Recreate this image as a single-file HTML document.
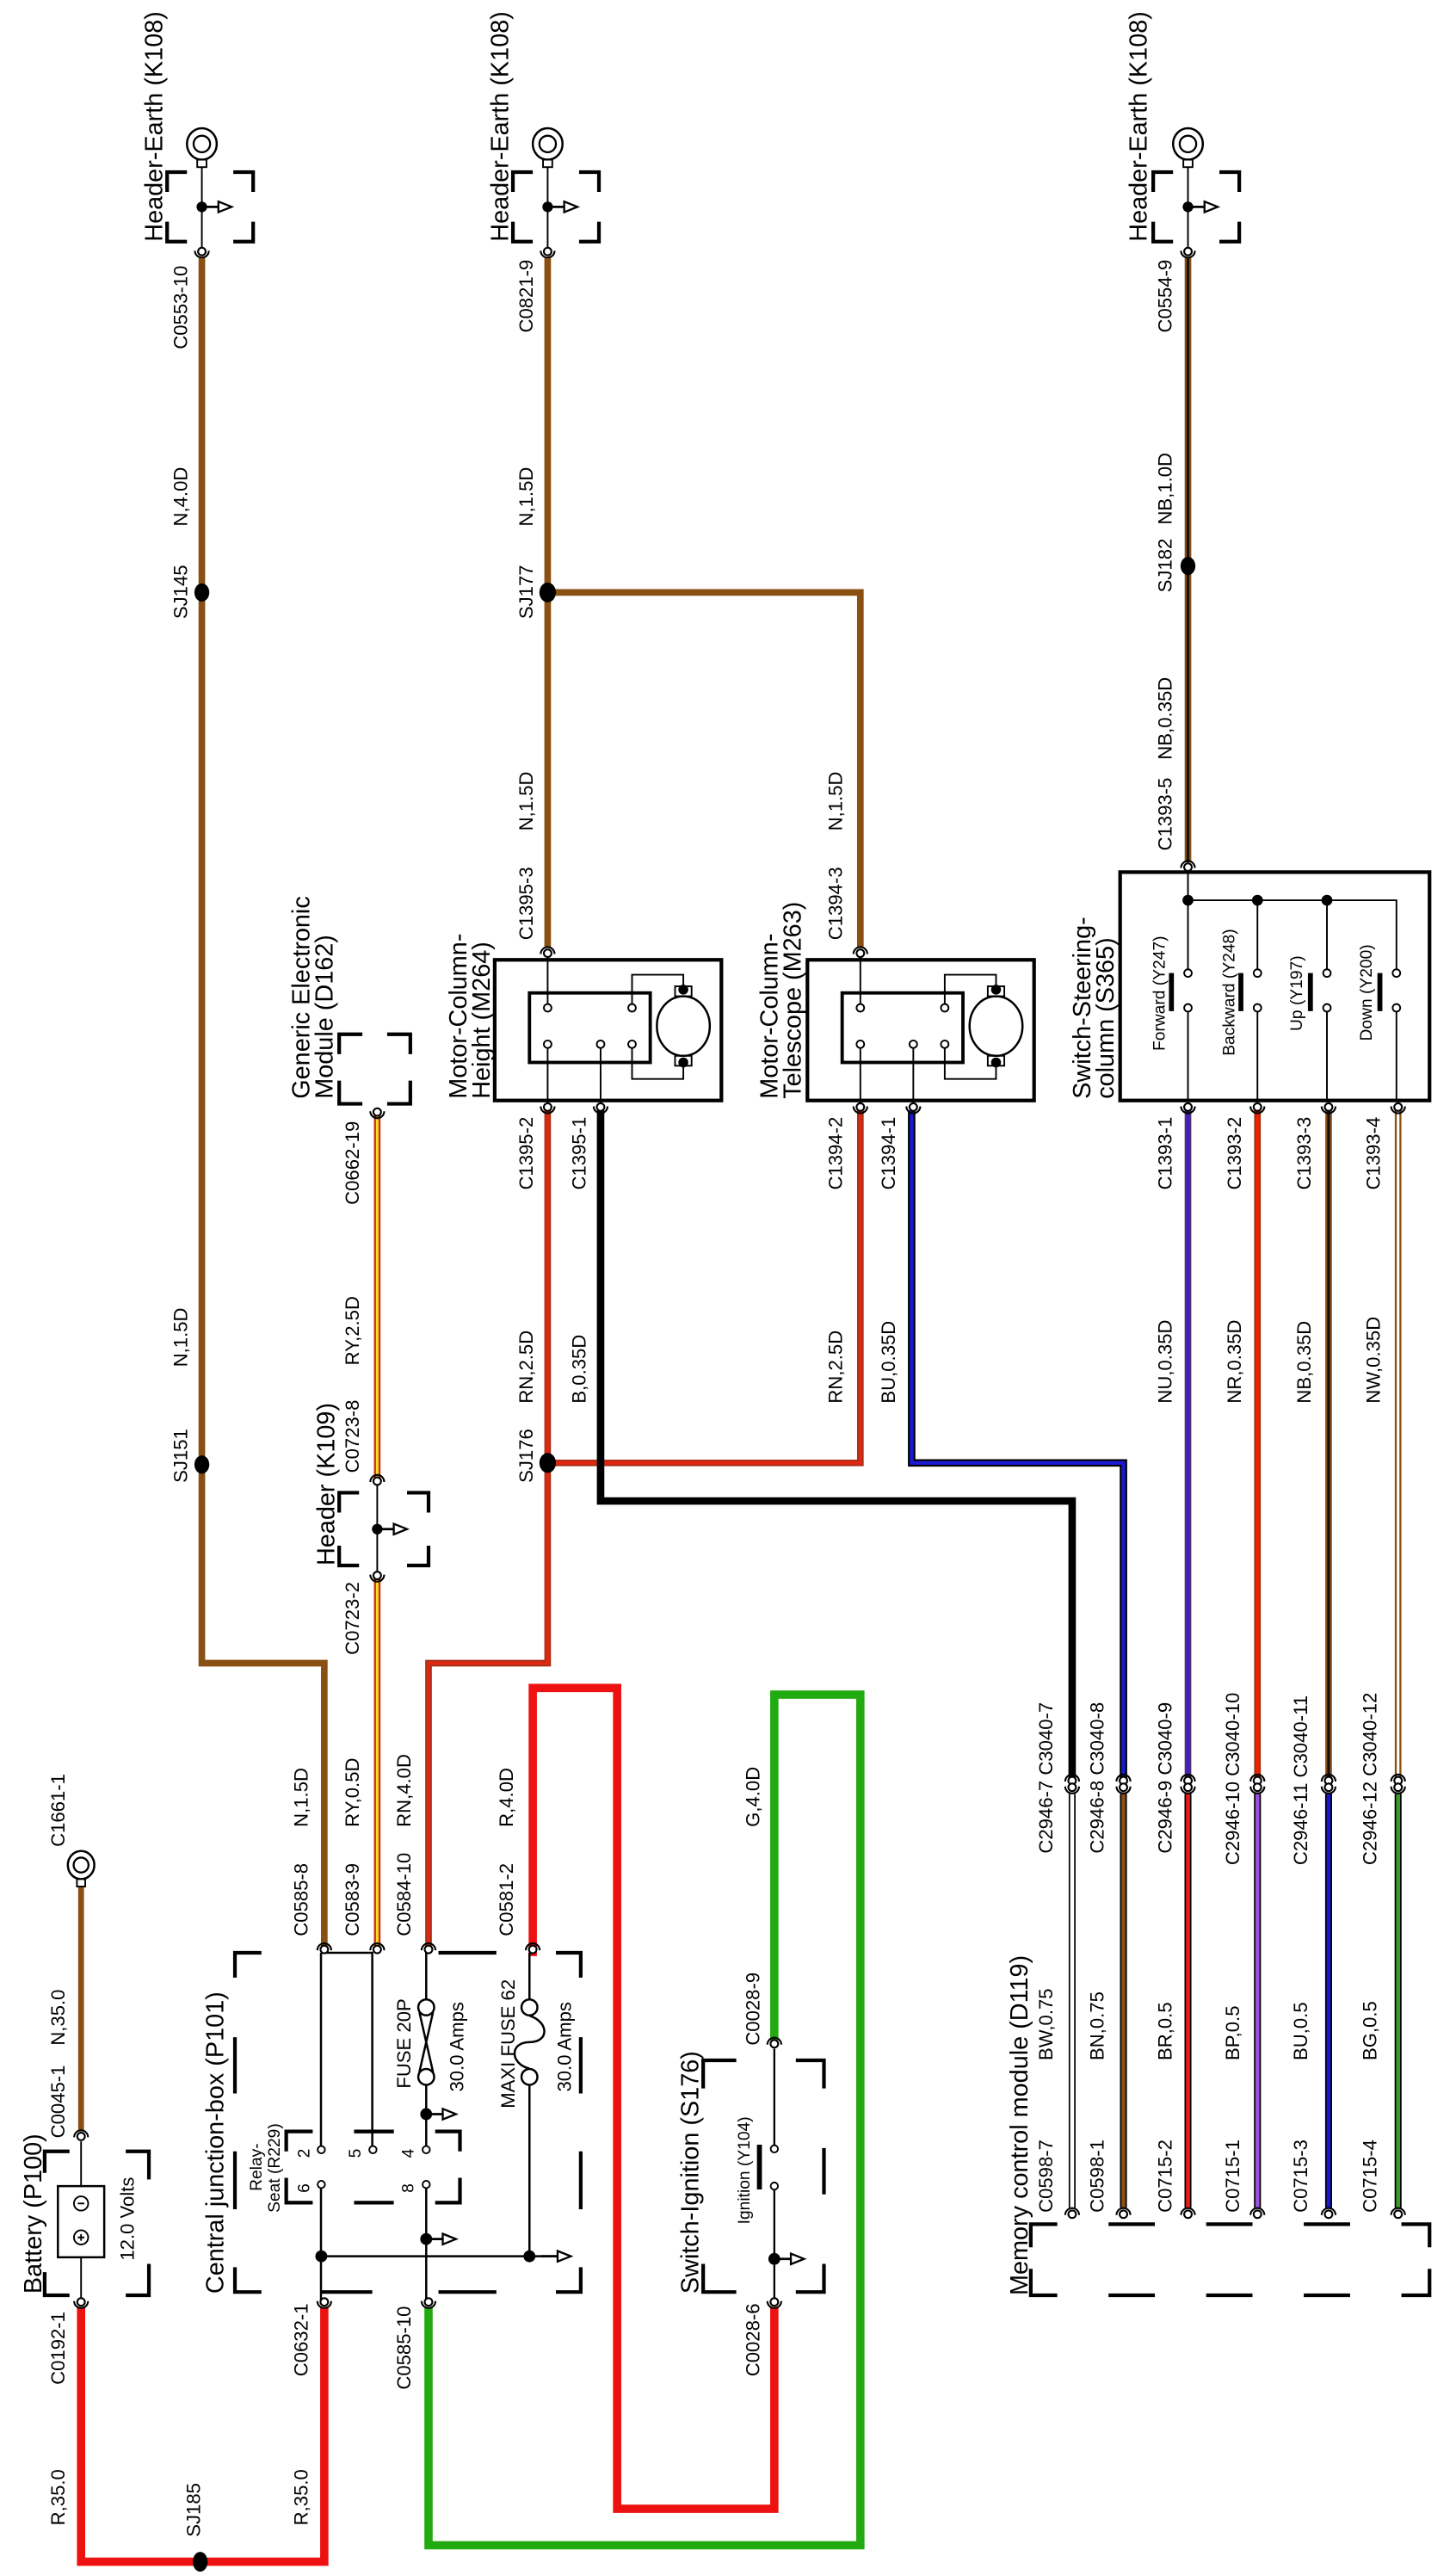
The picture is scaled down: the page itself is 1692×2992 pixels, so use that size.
<!DOCTYPE html>
<html><head><meta charset="utf-8"><style>
html,body{margin:0;padding:0;background:#fff;}
svg{display:block;}
text{font-family:"Liberation Sans",Arial,sans-serif;fill:#000;}
.t{font-size:15px;}
.l{font-size:11.5px;}
.s{font-size:10px;}
</style></head><body>
<svg width="1692" height="2992" viewBox="0 0 880 1556" preserveAspectRatio="none" xmlns="http://www.w3.org/2000/svg">
<defs>
<g id="ct"><path d="M-4.2,-0.5 A4.2,4.2 0 0 0 4.2,-0.5" fill="none" stroke="#000" stroke-width="1.1"/><circle r="2.3" fill="#fff" stroke="#000" stroke-width="1.1"/></g>
<g id="cb"><path d="M-4.2,0.5 A4.2,4.2 0 0 1 4.2,0.5" fill="none" stroke="#000" stroke-width="1.1"/><circle r="2.3" fill="#fff" stroke="#000" stroke-width="1.1"/></g>
<g id="ar"><line x1="0" y1="0" x2="10" y2="0" stroke="#000" stroke-width="1.4"/><polygon points="10,-3.2 18,0 10,3.2" fill="#fff" stroke="#000" stroke-width="1.2"/></g>
<g id="gnd">
<ellipse cx="0" cy="87" rx="9" ry="9.5" fill="#fff" stroke="#000" stroke-width="1.3"/>
<circle cx="0" cy="87" r="5" fill="none" stroke="#000" stroke-width="1.2"/>
<rect x="-2.8" y="96.5" width="5.6" height="4.5" fill="#fff" stroke="#000" stroke-width="1"/>
<line x1="0" y1="101" x2="0" y2="150" stroke="#000" stroke-width="1"/>
<circle cx="0" cy="125" r="3.2" fill="#000"/>
<use href="#ar" x="0" y="125"/>
<path d="M-21,116 V104 H-9 M19,104 H31 V116 M-21,134 V146 H-9 M19,146 H31 V134" fill="none" stroke="#000" stroke-width="2.2"/>
<use href="#ct" x="0" y="152"/>
</g>
</defs>

<!-- ground symbols -->
<use href="#gnd" x="122" y="0"/>
<use href="#gnd" x="331" y="0"/>
<use href="#gnd" x="718" y="0"/>

<!-- brown wires -->
<g fill="none" stroke="#8a4f12" stroke-width="4">
<path d="M122,156 V1005 H196 V1176"/>
<path d="M331,156 V572"/>
<path d="M331,358 H520 V572"/>
<path d="M718,156 V521"/>
<path d="M49,1288 V1140" stroke-width="3.5"/>
</g>
<path d="M718,156 V521" stroke="#111" stroke-width="1.5" fill="none"/>
<g fill="#000">
<ellipse cx="122" cy="358" rx="4.5" ry="5.5"/>
<ellipse cx="122" cy="885" rx="4.5" ry="5.5"/>
<ellipse cx="331" cy="358" rx="5" ry="6"/>
<ellipse cx="718" cy="342" rx="4.5" ry="5.5"/>
</g>

<!-- RY wire -->
<path d="M228,674 V893 M228,954 V1176" stroke="#d0301a" stroke-width="4" fill="none"/>
<path d="M228,674 V893 M228,954 V1176" stroke="#f5e020" stroke-width="1.5" fill="none"/>

<!-- RN wires -->
<g fill="none">
<path d="M331,671 V1005 H259 V1176" stroke="#a8301a" stroke-width="4"/>
<path d="M520,671 V884 H331" stroke="#a8301a" stroke-width="4"/>
<path d="M331,671 V1005 H259 V1176" stroke="#e02810" stroke-width="2"/>
<path d="M520,671 V884 H331" stroke="#e02810" stroke-width="2"/>
<path d="M363,671 V907 H648 V1075" stroke="#000" stroke-width="4.5"/>
<path d="M551,671 V884 H679 V1075" stroke="#000" stroke-width="4.5"/>
<path d="M551,671 V884 H679 V1075" stroke="#1a1ad0" stroke-width="2.3"/>
<path d="M718,668 V1075" stroke="#5a3060" stroke-width="4"/>
<path d="M718,668 V1075" stroke="#3a20d0" stroke-width="2"/>
<path d="M760,668 V1075" stroke="#9a3010" stroke-width="4"/>
<path d="M760,668 V1075" stroke="#f02000" stroke-width="2.2"/>
<path d="M803,668 V1075" stroke="#8a4f12" stroke-width="4"/>
<path d="M803,668 V1075" stroke="#111" stroke-width="1.6"/>
<path d="M845,668 V1075" stroke="#8a4f12" stroke-width="4"/>
<path d="M845,668 V1075" stroke="#fff" stroke-width="1.6"/>
</g>
<ellipse cx="331" cy="884" rx="5" ry="6" fill="#000"/>

<!-- memory module bottom wires -->
<g fill="none" stroke-width="4.2" stroke="#000">
<path d="M648,1084 V1334"/><path d="M679,1084 V1334"/><path d="M718,1084 V1334"/>
<path d="M760,1084 V1334"/><path d="M803,1084 V1334"/><path d="M845,1084 V1334"/>
</g>
<g fill="none" stroke-width="2.4">
<path d="M648,1084 V1334" stroke="#fff"/>
<path d="M679,1084 V1334" stroke="#8a4f12"/>
<path d="M718,1084 V1334" stroke="#ee1a1a"/>
<path d="M760,1084 V1334" stroke="#9b50e0"/>
<path d="M803,1084 V1334" stroke="#1818d0"/>
<path d="M845,1084 V1334" stroke="#3a9a2a"/>
</g>

<!-- heavy bottom wires -->
<g fill="none" stroke-width="5" stroke-linejoin="miter">
<path d="M49,1394 V1548 H196 V1394" stroke="#ee1111"/>
<path d="M322,1182 V1020 H373 V1516 H468 V1394" stroke="#ee1111"/>
<path d="M468,1233 V1024 H520 V1538 H259 V1394" stroke="#22aa11"/>
</g>
<ellipse cx="121" cy="1548" rx="4.5" ry="6" fill="#000"/>

<!-- D162 module -->
<path d="M205,637 V625 H219 M234,625 H248 V637 M205,653 V667 H219 M234,667 H248 V653" fill="none" stroke="#000" stroke-width="2.2"/>
<use href="#ct" x="228" y="672"/>

<!-- Header K109 -->
<path d="M205,914 V902 H217 M246,902 H259 V914 M205,934 V946 H217 M246,946 H259 V934" fill="none" stroke="#000" stroke-width="2.2"/>
<line x1="228" y1="897" x2="228" y2="950" stroke="#000" stroke-width="1"/>
<circle cx="228" cy="924" r="3.2" fill="#000"/>
<use href="#ar" x="228" y="924"/>
<use href="#cb" x="228" y="895"/>
<use href="#ct" x="228" y="952"/>

<!-- Motor boxes -->
<g id="motor" fill="none" stroke="#000">
<rect x="299" y="580" width="137" height="85" stroke-width="2.2"/>
<rect x="320" y="600" width="73" height="42" stroke-width="2"/>
<line x1="331" y1="577" x2="331" y2="607" stroke-width="1"/>
<line x1="331" y1="633" x2="331" y2="668" stroke-width="1"/>
<line x1="363" y1="633" x2="363" y2="668" stroke-width="1"/>
<path d="M382,607 V589 H413 V597 M382,633 V652 H413 V644" stroke-width="1"/>
<rect x="408" y="596" width="10" height="6" fill="#fff" stroke-width="1"/>
<rect x="408" y="638" width="10" height="6" fill="#fff" stroke-width="1"/>
<ellipse cx="413" cy="620" rx="16" ry="18" fill="#fff" stroke-width="1.3"/>
<circle cx="413" cy="598" r="3" fill="#000" stroke="none"/>
<circle cx="413" cy="642" r="3" fill="#000" stroke="none"/>
<circle cx="331" cy="609" r="2.3" fill="#fff" stroke-width="1"/>
<circle cx="382" cy="609" r="2.3" fill="#fff" stroke-width="1"/>
<circle cx="331" cy="631" r="2.3" fill="#fff" stroke-width="1"/>
<circle cx="363" cy="631" r="2.3" fill="#fff" stroke-width="1"/>
<circle cx="382" cy="631" r="2.3" fill="#fff" stroke-width="1"/>
</g>
<use href="#motor" x="189" y="0"/>
<use href="#cb" x="331" y="576"/><use href="#ct" x="331" y="669"/><use href="#ct" x="363" y="669"/>
<use href="#cb" x="520" y="576"/><use href="#ct" x="520" y="669"/><use href="#ct" x="552" y="669"/>

<!-- Switch steering column -->
<g fill="none" stroke="#000">
<rect x="677" y="527" width="187" height="138" stroke-width="2.2"/>
<path d="M718,527 V586 M718,611 V665 M760,544 V586 M760,611 V665 M802,544 V586 M802,611 V665 M718,544 H844 V586 M844,611 V665" stroke-width="1"/>
<path d="M708,588 V611 M750,588 V611 M792,588 V611 M834,588 V611" stroke-width="3"/>
</g>
<g fill="#fff" stroke="#000" stroke-width="1">
<circle cx="718" cy="588" r="2.3"/><circle cx="718" cy="609" r="2.3"/>
<circle cx="760" cy="588" r="2.3"/><circle cx="760" cy="609" r="2.3"/>
<circle cx="802" cy="588" r="2.3"/><circle cx="802" cy="609" r="2.3"/>
<circle cx="844" cy="588" r="2.3"/><circle cx="844" cy="609" r="2.3"/>
</g>
<circle cx="718" cy="544" r="3.3" fill="#000"/><circle cx="760" cy="544" r="3.3" fill="#000"/><circle cx="802" cy="544" r="3.3" fill="#000"/>
<use href="#cb" x="718" y="524"/>
<use href="#ct" x="718" y="669"/><use href="#ct" x="760" y="669"/><use href="#ct" x="803" y="669"/><use href="#ct" x="845" y="669"/>

<!-- Memory module connectors + box -->
<g>
<use href="#cb" x="648" y="1076"/><use href="#ct" x="648" y="1080"/>
<use href="#cb" x="679" y="1076"/><use href="#ct" x="679" y="1080"/>
<use href="#cb" x="718" y="1076"/><use href="#ct" x="718" y="1080"/>
<use href="#cb" x="760" y="1076"/><use href="#ct" x="760" y="1080"/>
<use href="#cb" x="803" y="1076"/><use href="#ct" x="803" y="1080"/>
<use href="#cb" x="845" y="1076"/><use href="#ct" x="845" y="1080"/>
<use href="#cb" x="648" y="1338"/><use href="#cb" x="679" y="1338"/><use href="#cb" x="718" y="1338"/>
<use href="#cb" x="760" y="1338"/><use href="#cb" x="803" y="1338"/><use href="#cb" x="845" y="1338"/>
</g>
<path d="M623,1358 V1344 H639 M670,1344 H698 M729,1344 H757 M788,1344 H816 M847,1344 H864 V1358 M623,1371 V1387 H639 M670,1387 H698 M729,1387 H757 M788,1387 H816 M847,1387 H864 V1371" fill="none" stroke="#000" stroke-width="2.2"/>

<!-- Battery -->
<path d="M27,1313 V1300 H42 M76,1300 H90 V1317 M27,1373 V1387 H42 M76,1387 H90 V1368" fill="none" stroke="#000" stroke-width="2.2"/>
<line x1="49" y1="1294" x2="49" y2="1389" stroke="#000" stroke-width="1"/>
<rect x="35" y="1321" width="28" height="43" fill="#fff" stroke="#000" stroke-width="1.3"/>
<circle cx="49" cy="1331.5" r="4.3" fill="#fff" stroke="#000" stroke-width="1"/>
<line x1="47" y1="1331.5" x2="51" y2="1331.5" stroke="#000" stroke-width="1"/>
<circle cx="49" cy="1352" r="4.3" fill="#fff" stroke="#000" stroke-width="1"/>
<path d="M47,1352 H51 M49,1350 V1354" stroke="#000" stroke-width="1"/>
<use href="#cb" x="49" y="1291"/><use href="#ct" x="49" y="1391"/>
<ellipse cx="49" cy="1127" rx="8" ry="8.5" fill="#fff" stroke="#000" stroke-width="1.3"/>
<circle cx="49" cy="1127" r="4.5" fill="none" stroke="#000" stroke-width="1.2"/>
<rect x="46.5" y="1135.5" width="5" height="4.5" fill="#fff" stroke="#000" stroke-width="1"/>

<!-- Central junction box -->
<path d="M142,1195 V1180 H158 M265,1180 H300 M336,1180 H351 V1195 M142,1231 V1265 M351,1231 V1265 M142,1300 V1335 M351,1300 V1335 M142,1370 V1385 H158 M194,1385 H225 M265,1385 H300 M336,1385 H351 V1370" fill="none" stroke="#000" stroke-width="2.2"/>
<path d="M173,1300 V1288 H189 M214,1288 H238 M263,1288 H278 V1300 M173,1316 V1331 H189 M214,1331 H238 M263,1331 H278 V1316" fill="none" stroke="#000" stroke-width="2.2"/>
<g fill="none" stroke="#000" stroke-width="1.3">
<path d="M194,1180 H225 V1297 M194,1180 V1297 M194,1322 V1391"/>
<path d="M257.6,1180 V1208 M257.6,1260 V1297 M257.6,1322 V1391"/>
<path d="M194,1363.4 H337"/>
<path d="M320,1180 V1208 M320,1260 V1363.4"/>
<circle cx="257.6" cy="1213" r="4.8" fill="#fff"/>
<circle cx="257.6" cy="1255" r="4.8" fill="#fff"/>
<path d="M253.5,1216 L261.7,1252 M261.7,1216 L253.5,1252"/>
<circle cx="320" cy="1213" r="4.8" fill="#fff"/>
<circle cx="320" cy="1255" r="4.8" fill="#fff"/>
<path d="M320,1218 C332,1222 332,1234 320,1234 C308,1234 308,1247 320,1250"/>
</g>
<g fill="#fff" stroke="#000" stroke-width="1">
<circle cx="194.2" cy="1299" r="2.2"/><circle cx="225.4" cy="1299" r="2.2"/><circle cx="257.6" cy="1299" r="2.2"/>
<circle cx="194.2" cy="1320" r="2.2"/><circle cx="257.6" cy="1320" r="2.2"/>
</g>
<line x1="214" y1="1288" x2="238" y2="1288" stroke="#000" stroke-width="2.2"/>
<circle cx="257.6" cy="1277.5" r="3.6" fill="#000"/><use href="#ar" x="257.6" y="1277.5"/>
<circle cx="257.6" cy="1353" r="3.6" fill="#000"/><use href="#ar" x="257.6" y="1353"/>
<circle cx="194.2" cy="1363.4" r="3.6" fill="#000"/>
<circle cx="320" cy="1363.4" r="3.6" fill="#000"/><use href="#ar" x="327" y="1363.4"/>
<use href="#cb" x="196" y="1178"/><use href="#cb" x="228" y="1178"/><use href="#cb" x="259" y="1178"/><use href="#cb" x="322" y="1178"/>
<use href="#ct" x="196" y="1391"/><use href="#ct" x="259" y="1391"/>

<!-- Ignition switch -->
<path d="M425,1262 V1245 H445 M481,1245 H498 V1262 M498,1298 V1326 M425,1368 V1385 H445 M481,1385 H498 V1368" fill="none" stroke="#000" stroke-width="2.2"/>
<path d="M468,1238 V1296 M468,1323 V1389" stroke="#000" stroke-width="1.2"/>
<path d="M459,1296 V1323" stroke="#000" stroke-width="3"/>
<circle cx="468" cy="1298.5" r="2.2" fill="#fff" stroke="#000"/>
<circle cx="468" cy="1321" r="2.2" fill="#fff" stroke="#000"/>
<circle cx="468" cy="1365" r="3.6" fill="#000"/><use href="#ar" x="468" y="1365"/>
<use href="#cb" x="468" y="1235"/><use href="#ct" x="468" y="1391"/>

<!-- TEXT -->
<g class="t">
<text transform="translate(98,146) rotate(-90)">Header-Earth (K108)</text>
<text transform="translate(307,146) rotate(-90)">Header-Earth (K108)</text>
<text transform="translate(693,146) rotate(-90)">Header-Earth (K108)</text>
<text transform="translate(187,664) rotate(-90)">Generic Electronic</text>
<text transform="translate(201,664) rotate(-90)">Module (D162)</text>
<text transform="translate(202,946) rotate(-90)">Header (K109)</text>
<text transform="translate(282,664) rotate(-90)">Motor-Column-</text>
<text transform="translate(296,664) rotate(-90)">Height (M264)</text>
<text transform="translate(470,664) rotate(-90)">Motor-Column-</text>
<text transform="translate(484,664) rotate(-90)">Telescope (M263)</text>
<text transform="translate(659,664) rotate(-90)">Switch-Steering-</text>
<text transform="translate(673,664) rotate(-90)">column (S365)</text>
<text transform="translate(25,1386) rotate(-90)">Battery (P100)</text>
<text transform="translate(135,1386) rotate(-90)">Central junction-box (P101)</text>
<text transform="translate(422,1386) rotate(-90)">Switch-Ignition (S176)</text>
<text transform="translate(621,1387) rotate(-90)">Memory control module (D119)</text>
</g>
<g class="l">
<text transform="translate(113,211) rotate(-90)">C0553-10</text>
<text transform="translate(113,318) rotate(-90)">N,4.0D</text>
<text transform="translate(113,374) rotate(-90)">SJ145</text>
<text transform="translate(113,826) rotate(-90)">N,1.5D</text>
<text transform="translate(113,896) rotate(-90)">SJ151</text>
<text transform="translate(322,201) rotate(-90)">C0821-9</text>
<text transform="translate(322,318) rotate(-90)">N,1.5D</text>
<text transform="translate(322,374) rotate(-90)">SJ177</text>
<text transform="translate(322,502) rotate(-90)">N,1.5D</text>
<text transform="translate(322,568) rotate(-90)">C1395-3</text>
<text transform="translate(509,502) rotate(-90)">N,1.5D</text>
<text transform="translate(509,568) rotate(-90)">C1394-3</text>
<text transform="translate(708,201) rotate(-90)">C0554-9</text>
<text transform="translate(708,317) rotate(-90)">NB,1.0D</text>
<text transform="translate(708,358) rotate(-90)">SJ182</text>
<text transform="translate(708,459) rotate(-90)">NB,0.35D</text>
<text transform="translate(708,514) rotate(-90)">C1393-5</text>
<text transform="translate(217,728) rotate(-90)">C0662-19</text>
<text transform="translate(217,825) rotate(-90)">RY,2.5D</text>
<text transform="translate(217,890) rotate(-90)">C0723-8</text>
<text transform="translate(217,1000) rotate(-90)">C0723-2</text>
<text transform="translate(322,719) rotate(-90)">C1395-2</text>
<text transform="translate(354,719) rotate(-90)">C1395-1</text>
<text transform="translate(322,848) rotate(-90)">RN,2.5D</text>
<text transform="translate(354,848) rotate(-90)">B,0.35D</text>
<text transform="translate(322,896) rotate(-90)">SJ176</text>
<text transform="translate(509,719) rotate(-90)">C1394-2</text>
<text transform="translate(541,719) rotate(-90)">C1394-1</text>
<text transform="translate(509,848) rotate(-90)">RN,2.5D</text>
<text transform="translate(541,848) rotate(-90)">BU,0.35D</text>
<text transform="translate(708,719) rotate(-90)">C1393-1</text>
<text transform="translate(750,719) rotate(-90)">C1393-2</text>
<text transform="translate(792,719) rotate(-90)">C1393-3</text>
<text transform="translate(834,719) rotate(-90)">C1393-4</text>
<text transform="translate(708,848) rotate(-90)">NU,0.35D</text>
<text transform="translate(750,848) rotate(-90)">NR,0.35D</text>
<text transform="translate(792,848) rotate(-90)">NB,0.35D</text>
<text transform="translate(834,848) rotate(-90)">NW,0.35D</text>
<text transform="translate(636,1120) rotate(-90)">C2946-7 C3040-7</text>
<text transform="translate(667,1120) rotate(-90)">C2946-8 C3040-8</text>
<text transform="translate(708,1120) rotate(-90)">C2946-9 C3040-9</text>
<text transform="translate(749,1127) rotate(-90)">C2946-10 C3040-10</text>
<text transform="translate(790,1127) rotate(-90)">C2946-11 C3040-11</text>
<text transform="translate(832,1127) rotate(-90)">C2946-12 C3040-12</text>
<text transform="translate(636,1245) rotate(-90)">BW,0.75</text>
<text transform="translate(667,1245) rotate(-90)">BN,0.75</text>
<text transform="translate(708,1245) rotate(-90)">BR,0.5</text>
<text transform="translate(749,1245) rotate(-90)">BP,0.5</text>
<text transform="translate(790,1245) rotate(-90)">BU,0.5</text>
<text transform="translate(832,1245) rotate(-90)">BG,0.5</text>
<text transform="translate(636,1337) rotate(-90)">C0598-7</text>
<text transform="translate(667,1337) rotate(-90)">C0598-1</text>
<text transform="translate(708,1337) rotate(-90)">C0715-2</text>
<text transform="translate(749,1337) rotate(-90)">C0715-1</text>
<text transform="translate(790,1337) rotate(-90)">C0715-3</text>
<text transform="translate(832,1337) rotate(-90)">C0715-4</text>
<text transform="translate(39,1116) rotate(-90)">C1661-1</text>
<text transform="translate(39,1236) rotate(-90)">N,35.0</text>
<text transform="translate(39,1292) rotate(-90)">C0045-1</text>
<text transform="translate(81,1366) rotate(-90)">12.0 Volts</text>
<text transform="translate(39,1441) rotate(-90)">C0192-1</text>
<text transform="translate(39,1526) rotate(-90)">R,35.0</text>
<text transform="translate(121,1533) rotate(-90)">SJ185</text>
<text transform="translate(186,1526) rotate(-90)">R,35.0</text>
<text transform="translate(186,1170) rotate(-90)">C0585-8</text>
<text transform="translate(186,1104) rotate(-90)">N,1.5D</text>
<text transform="translate(217,1170) rotate(-90)">C0583-9</text>
<text transform="translate(217,1104) rotate(-90)">RY,0.5D</text>
<text transform="translate(248,1170) rotate(-90)">C0584-10</text>
<text transform="translate(248,1104) rotate(-90)">RN,4.0D</text>
<text transform="translate(310,1170) rotate(-90)">C0581-2</text>
<text transform="translate(310,1104) rotate(-90)">R,4.0D</text>
<text transform="translate(248,1262) rotate(-90)">FUSE 20P</text>
<text transform="translate(280,1264) rotate(-90)">30.0 Amps</text>
<text transform="translate(311,1274) rotate(-90)">MAXI FUSE 62</text>
<text transform="translate(345,1264) rotate(-90)">30.0 Amps</text>
<text transform="translate(186,1436) rotate(-90)">C0632-1</text>
<text transform="translate(248,1444) rotate(-90)">C0585-10</text>
<text transform="translate(459,1236) rotate(-90)">C0028-9</text>
<text transform="translate(459,1104) rotate(-90)">G,4.0D</text>
<text transform="translate(459,1436) rotate(-90)">C0028-6</text>
</g>
<g class="s">
<text transform="translate(704,635) rotate(-90)">Forward (Y247)</text>
<text transform="translate(746,638) rotate(-90)">Backward (Y248)</text>
<text transform="translate(787,623) rotate(-90)">Up (Y197)</text>
<text transform="translate(829,629) rotate(-90)">Down (Y200)</text>
<text transform="translate(453,1344) rotate(-90)">Ignition (Y104)</text>
<text transform="translate(158,1324) rotate(-90)">Relay-</text>
<text transform="translate(169,1337) rotate(-90)">Seat (R229)</text>
<text transform="translate(187,1304) rotate(-90)">2</text>
<text transform="translate(218,1304) rotate(-90)">5</text>
<text transform="translate(250,1304) rotate(-90)">4</text>
<text transform="translate(187,1325) rotate(-90)">6</text>
<text transform="translate(250,1325) rotate(-90)">8</text>
</g>
</svg>
</body></html>
